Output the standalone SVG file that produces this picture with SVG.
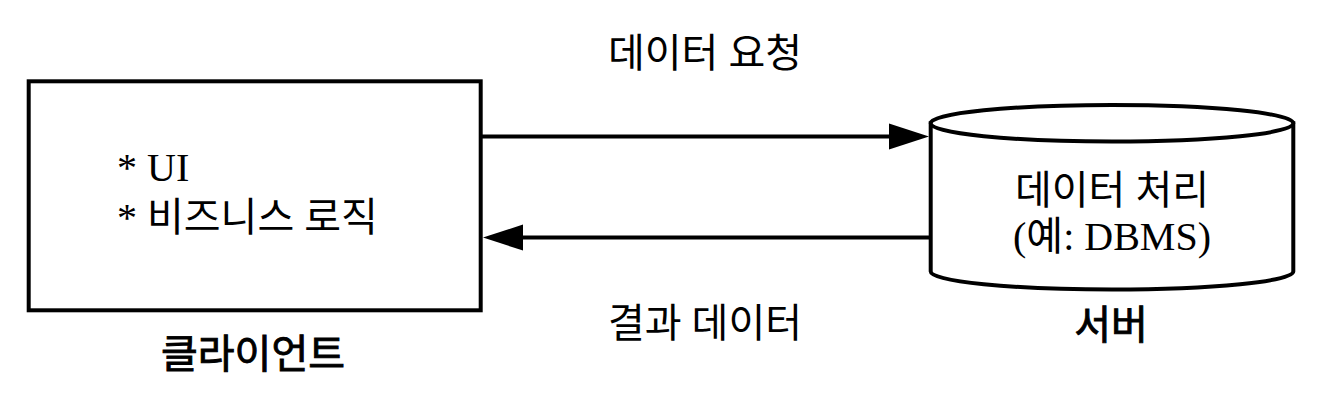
<svg xmlns="http://www.w3.org/2000/svg" width="1322" height="400" viewBox="0 0 1322 400">
  <style>
    .shape { fill: #ffffff; stroke: #000000; stroke-width: 4; }
    .conn { fill: none; stroke: #000000; stroke-width: 4; }
    .txt { font-family: "Liberation Serif", "Noto Sans CJK KR", serif; font-size: 40px; fill: #000000; }
    .lbl { font-family: "Liberation Serif", "Noto Sans CJK KR", serif; font-size: 40px; fill: #000000; stroke: #000000; stroke-width: 0.9; }
    .mid { text-anchor: middle; }
  </style>
  <defs>
    <marker id="arrow" markerUnits="userSpaceOnUse" markerWidth="40" markerHeight="26" refX="0" refY="13" orient="auto" overflow="visible">
      <path d="M0,0 L40,13 L0,26 Z" fill="#000000"/>
    </marker>
  </defs>
  <rect width="1322" height="400" fill="#ffffff"/>

  <g id="client">
    <rect class="shape" x="28.7" y="81.3" width="452" height="229"/>
    <text class="txt" x="117" y="181">* UI</text>
    <text class="txt" x="117" y="231">* 비즈니스 로직</text>
    <text class="lbl mid" x="253" y="368">클라이언트</text>
  </g>

  <g id="server">
    <path class="shape" d="M930.7,123.3 L930.7,271.5 A181.3,18 0 0 0 1293.3,271.5 L1293.3,123.3 Z"/>
    <ellipse class="shape" cx="1112" cy="123.3" rx="181.3" ry="18.3"/>
    <text class="txt mid" x="1112" y="204">데이터 처리</text>
    <text class="txt mid" x="1112" y="250">(예: DBMS)</text>
    <text class="lbl mid" x="1111" y="339">서버</text>
  </g>

  <g id="connectors">
    <line class="conn" x1="480.7" y1="136.5" x2="889" y2="136.5" marker-end="url(#arrow)"/>
    <line class="conn" x1="930.7" y1="237.5" x2="523" y2="237.5" marker-end="url(#arrow)"/>
    <text class="txt mid" x="705" y="67">데이터 요청</text>
    <text class="txt mid" x="705" y="337">결과 데이터</text>
  </g>
</svg>
